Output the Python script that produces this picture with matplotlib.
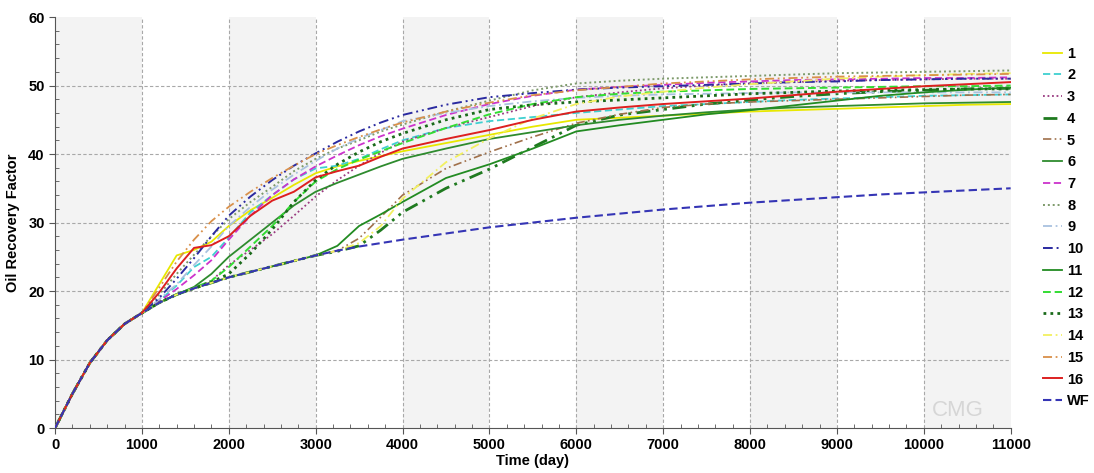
import matplotlib
matplotlib.use("Agg")
import matplotlib.pyplot as plt

days = [0, 200, 400, 600, 800, 1000, 1200, 1400, 1600, 1800, 2000, 2250, 2500, 2750,
        3000, 3250, 3500, 3750, 4000, 4500, 5000, 5500, 6000, 6500, 7000, 7500, 8000,
        8500, 9000, 9500, 10000, 10500, 11000]

base = [0, 5.0, 9.5, 12.8, 15.2, 16.8]

s1 = base + [21.0, 25.2, 26.0, 27.2, 29.5, 31.8, 33.6, 35.5, 37.2, 38.2, 39.0, 39.7, 40.4,
             41.6, 42.8, 44.0, 45.0, 45.3, 45.6, 45.9, 46.2, 46.4, 46.6, 46.8, 47.0, 47.2, 47.3]
s2 = base + [18.6, 20.8, 23.5, 25.0, 27.8, 31.5, 34.0, 36.3, 37.9, 38.3, 39.3, 40.7, 42.0,
             43.8, 44.8, 45.4, 46.0, 46.5, 47.0, 47.3, 47.6, 47.9, 48.1, 48.3, 48.5, 48.6, 48.7]
s3 = base + [18.3, 19.5, 20.4, 21.5, 23.8, 26.0, 28.3, 31.0, 33.8, 36.2, 38.3, 40.2, 41.8,
             43.8, 45.4, 47.0, 48.3, 49.0, 49.6, 50.0, 50.3, 50.5, 50.7, 50.8, 50.9, 51.0, 51.0]
s4 = base + [18.3, 19.5, 20.4, 21.2, 22.0, 22.8, 23.6, 24.4, 25.2, 25.8, 26.6, 28.9, 31.5,
             35.0, 37.8, 41.0, 44.2, 45.7, 46.5, 47.3, 47.9, 48.4, 48.8, 49.1, 49.3, 49.5, 49.6]
s5 = base + [18.3, 19.5, 20.4, 21.2, 22.0, 22.8, 23.6, 24.4, 25.2, 25.9, 27.7, 30.8, 34.0,
             37.9, 40.3, 42.5, 44.5, 45.8, 46.8, 47.3, 47.6, 47.8, 48.0, 48.2, 48.4, 48.6, 48.7]
s6 = base + [18.3, 19.5, 20.6, 22.5, 25.0, 27.5, 30.0, 32.5, 34.5, 35.8, 37.0, 38.2, 39.3,
             40.8, 42.2, 43.2, 44.2, 45.0, 45.6, 46.1, 46.5, 46.8, 47.0, 47.2, 47.4, 47.5, 47.6]
s7 = base + [18.5, 20.3, 22.3, 24.5, 27.5, 31.0, 34.0, 36.3, 38.2, 39.8, 41.3, 42.6, 43.7,
             45.7, 47.3, 48.5, 49.4, 49.8, 50.1, 50.4, 50.6, 50.8, 50.9, 51.0, 51.1, 51.1, 51.2]
s8 = base + [19.5, 22.5, 25.3, 28.0, 30.5, 33.0, 35.2, 37.5, 39.3, 40.8, 42.0, 43.3, 44.3,
             46.2, 47.8, 49.3, 50.3, 50.7, 51.0, 51.2, 51.4, 51.6, 51.8, 51.9, 52.0, 52.1, 52.2]
s9 = base + [18.8, 21.0, 23.8, 26.5, 29.5, 32.3, 34.8, 37.0, 39.0, 40.8, 42.3, 43.5, 44.8,
             46.0, 47.0, 47.7, 48.2, 48.5, 48.7, 48.8, 48.9, 49.0, 49.0, 49.0, 49.0, 49.0, 49.0]
s10 = base + [19.0, 21.8, 24.8, 28.0, 31.0, 33.8, 36.2, 38.3, 40.1, 41.8, 43.3, 44.6, 45.7,
              47.2, 48.3, 48.9, 49.4, 49.7, 49.9, 50.1, 50.3, 50.5, 50.6, 50.8, 50.9, 51.0, 51.0]
s11 = base + [18.3, 19.5, 20.4, 21.2, 22.0, 22.8, 23.6, 24.4, 25.2, 26.6, 29.5, 31.2, 33.0,
              36.5, 38.5, 40.8, 43.3, 44.2, 45.0, 45.8, 46.4, 47.1, 47.8, 48.5, 49.0, 49.4, 49.7]
s12 = base + [18.3, 19.5, 20.5, 21.5, 23.5, 26.5, 29.5, 33.0, 36.0, 37.8, 39.2, 40.4, 41.6,
              43.8, 45.8, 47.3, 48.3, 48.8, 49.1, 49.3, 49.5, 49.6, 49.7, 49.8, 49.9, 49.9, 50.0]
s13 = base + [18.3, 19.5, 20.4, 21.3, 22.5, 25.5, 29.0, 33.0, 36.2, 38.5, 40.3, 41.8, 43.0,
              45.0, 46.5, 47.2, 47.6, 47.9, 48.2, 48.5, 48.8, 49.0, 49.2, 49.3, 49.4, 49.5, 49.5]
s14 = base + [18.3, 19.5, 20.4, 21.2, 22.0, 22.8, 23.6, 24.4, 25.2, 25.9, 27.0, 29.5, 33.5,
              38.8, 42.3, 45.2, 47.3, 48.4, 49.1, 49.7, 50.2, 50.6, 51.0, 51.3, 51.5, 51.7, 51.8]
s15 = base + [20.5, 24.3, 27.5, 30.2, 32.3, 34.5, 36.5, 38.3, 40.0, 41.3, 42.5, 43.6, 44.6,
              46.2, 47.5, 48.6, 49.3, 49.8, 50.3, 50.6, 50.9, 51.1, 51.3, 51.4, 51.5, 51.6, 51.7]
s16 = base + [19.8, 23.3, 26.3, 26.7, 28.0, 31.0, 33.2, 34.5, 36.6, 37.5, 38.3, 39.6, 40.8,
              42.2, 43.5, 45.0, 46.2, 46.8, 47.3, 47.7, 48.1, 48.6, 49.1, 49.5, 49.9, 50.2, 50.5]
wf = base + [18.3, 19.5, 20.4, 21.2, 22.0, 22.8, 23.6, 24.4, 25.2, 25.9, 26.5, 27.0, 27.5,
             28.4, 29.3, 30.0, 30.7, 31.3, 31.9, 32.4, 32.9, 33.3, 33.7, 34.1, 34.4, 34.7, 35.0]

labels = ["1", "2", "3", "4", "5", "6", "7", "8", "9", "10", "11", "12", "13", "14", "15", "16", "WF"]
series = [s1, s2, s3, s4, s5, s6, s7, s8, s9, s10, s11, s12, s13, s14, s15, s16, wf]

colors = ["#e8e800", "#3fd0d0", "#9a3a80", "#1f7a1f", "#a0704a", "#2e8b2e", "#cc33cc",
          "#7d9a6a", "#a9c2df", "#2a2aa0", "#228b22", "#33dd33", "#1a6a1a", "#f2f060",
          "#d9904a", "#dd2020", "#3535b5"]
styles = ["-", (0, (4, 2)), (0, (1, 1.5)), (0, (5, 2, 1, 2, 1, 2)), (0, (5, 2, 1, 2, 1, 2)),
          "-", (0, (4, 2)), (0, (1, 1.5)), (0, (5, 2, 1, 2)), (0, (5, 2, 1, 2, 1, 2)),
          "-", (0, (4, 2)), (0, (1, 1.5)), (0, (5, 2, 1, 2)), (0, (5, 2, 1, 2, 1, 2)),
          "-", (0, (4, 2))]
widths = [1.3, 1.3, 1.3, 2.0, 1.2, 1.3, 1.3, 1.4, 1.3, 1.4, 1.3, 1.4, 2.0, 1.3, 1.3, 1.4, 1.5]

plt.rcParams['font.family'] = ['Liberation Sans', 'DejaVu Sans']

fig = plt.figure(figsize=(10.94, 4.73), dpi=100)
ax = fig.add_axes([0.0503, 0.095, 0.8735, 0.869])

for k in range(0, 11000, 2000):
    ax.axvspan(k, k + 1000, color="#f3f3f3", zorder=0, lw=0)
ax.axvspan(10000, 11000, color="#f3f3f3", zorder=0, lw=0)

for yv in [10, 20, 30, 40, 50]:
    ax.axhline(yv, color="#a8a8a8", lw=0.8, ls=(0, (3, 2)), zorder=1)
for xv in range(1000, 11000, 1000):
    ax.axvline(xv, color="#a8a8a8", lw=0.8, ls=(0, (3, 2)), zorder=1)

handles = []
for i, (lab, s) in enumerate(zip(labels, series)):
    z = 3 if lab != "WF" else 4
    ln, = ax.plot(days, s, color=colors[i], ls=styles[i], lw=widths[i], zorder=z, label=lab)
    handles.append(ln)

ax.set_xlim(0, 11000)
ax.set_ylim(0, 60)
ax.set_xticks(range(0, 11001, 1000))
ax.set_yticks(range(0, 61, 10))
ax.set_xticks(range(0, 11001, 200), minor=True)
ax.set_yticks(range(0, 61, 2), minor=True)
ax.tick_params(axis="both", which="major", direction="out", length=4, color="#555555",
               labelsize=10.5)
ax.tick_params(axis="both", which="minor", direction="in", length=3, color="#555555")
for lbl in ax.get_xticklabels() + ax.get_yticklabels():
    lbl.set_fontweight("bold")
for sp in ["top", "right"]:
    ax.spines[sp].set_visible(False)
for sp in ["left", "bottom"]:
    ax.spines[sp].set_color("#555555")

ax.set_xlabel("Time (day)", fontweight="bold", fontsize=10.5, labelpad=1)
ax.set_ylabel("Oil Recovery Factor", fontweight="bold", fontsize=10.5, labelpad=6)

ax.text(10390, 2.6, "CMG", fontsize=16, color="#d6d6d6", ha="center", va="center",
        zorder=2)

leg = fig.legend(handles=handles, labels=labels, loc="upper left",
                 bbox_to_anchor=(0.944, 0.923), frameon=False, handlelength=1.3,
                 handletextpad=0.35, labelspacing=0.53, borderpad=0.2,
                 prop={"weight": "bold", "size": 10.5})

fig.savefig("out.png", dpi=100)
